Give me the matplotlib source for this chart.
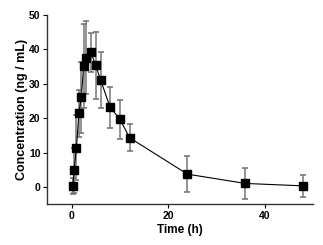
import matplotlib.pyplot as plt

# datos
tiempo = [0.25, 0.5, 1, 1.5, 2, 2.5, 3, 4, 5, 6, 8, 10, 12, 24, 36, 48]
concentracion = [0.3, 4.8, 11.4, 21.4, 26.0, 35.2, 37.6, 39.1, 35.3, 31.1, 23.1, 19.7, 14.3, 3.7, 1.0, 0.3]
desvio = [2.4, 6.5, 9.5, 6.8, 10.4, 12.2, 10.5, 5.7, 9.6, 8.1, 5.9, 5.7, 3.9, 5.2, 4.5, 3.2]

plt.rcParams['font.family'] = ['Liberation Sans', 'DejaVu Sans']
plt.rcParams['font.weight'] = 'bold'

fig = plt.figure(figsize=(3.23, 2.45), dpi=100)
ax = fig.add_axes([0.147, 0.167, 0.822, 0.772])

linea, caps, barras = ax.errorbar(tiempo, concentracion, yerr=desvio, fmt='s-', color='black',
                                  ms=5.5, lw=0.8, ecolor='#777777', elinewidth=1.1,
                                  capsize=2.5, capthick=1.2)
for c in caps:
    c.set_color('black')

ax.set_xlim(-5, 50)
ax.set_ylim(-5, 50)
ax.set_xticks([0, 20, 40])
ax.set_yticks([0, 10, 20, 30, 40, 50])
ax.spines['top'].set_visible(False)
ax.spines['right'].set_visible(False)
for s in ['left', 'bottom']:
    ax.spines[s].set_linewidth(1.0)
    ax.spines[s].set_color('#333333')
ax.tick_params(direction='out', length=3, width=0.8, labelsize=7.5, pad=2)
for lab in ax.get_xticklabels() + ax.get_yticklabels():
    lab.set_fontweight('bold')

ax.set_xlabel('Time (h)', fontsize=8.5, fontweight='bold', labelpad=2)
ax.set_ylabel('Concentration (ng / mL)', fontsize=9, fontweight='bold', labelpad=1)

fig.savefig('out.png', dpi=100)
